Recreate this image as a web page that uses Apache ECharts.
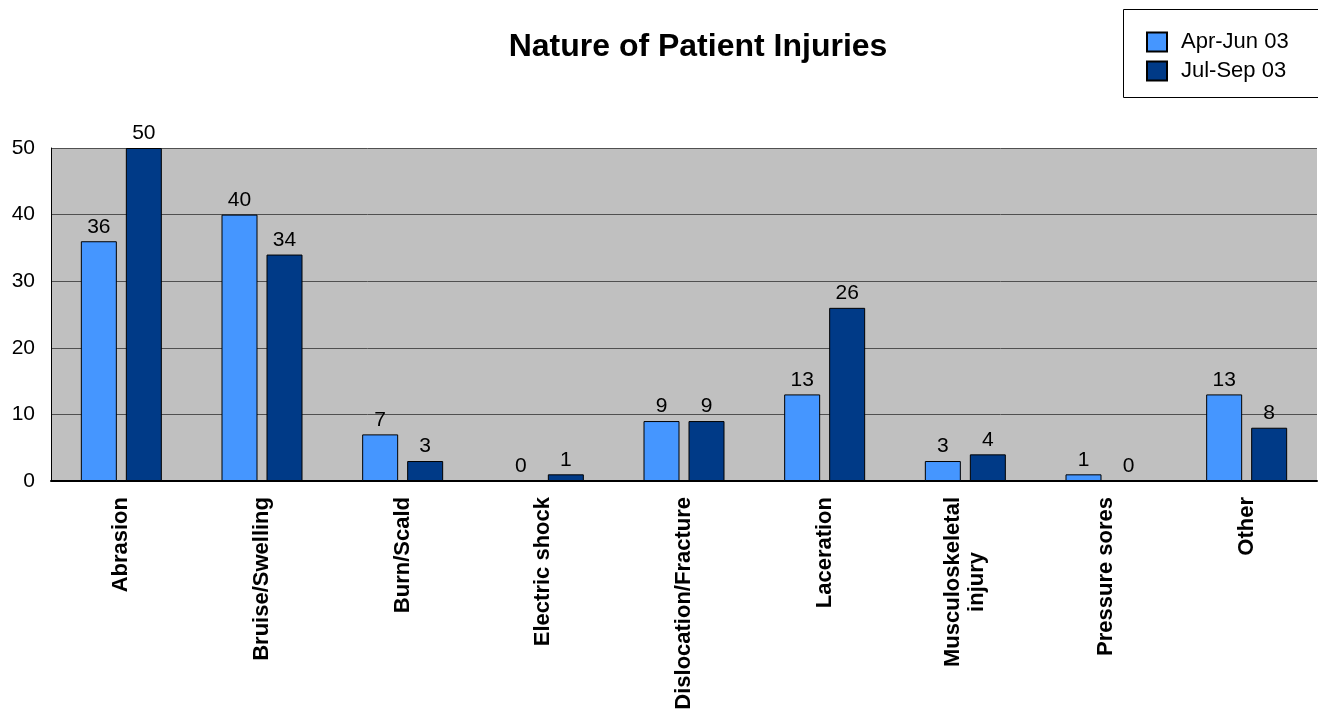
<!DOCTYPE html>
<html>
<head>
<meta charset="utf-8">
<title>Nature of Patient Injuries</title>
<script src="https://cdn.jsdelivr.net/npm/echarts@6/dist/echarts.min.js"></script>
<style>
    html, body { margin: 0; padding: 0; background: #fff; }
    #chart { width: 1318px; height: 709px; }
</style>
</head>
<body>
<div id="chart"></div>
<script>
    // categories and values
    var categories = ['Abrasion', 'Bruise/Swelling', 'Burn/Scald', 'Electric shock', 'Dislocation/Fracture',
        'Laceration', 'Musculoskeletal\ninjury', 'Pressure sores', 'Other'];
    var aprJun = [36, 40, 7, 0, 9, 13, 3, 1, 13];
    var julSep = [50, 34, 3, 1, 9, 26, 4, 0, 8];
    var seriesNames = ['Apr-Jun 03', 'Jul-Sep 03'];
    var yTicks = [0, 10, 20, 30, 40, 50];

    var font = 'Liberation Sans, Arial, sans-serif';

    var makeSeries = function(name, data, color) {
        // a zero bar has no outline in the original
        var list = [];
        for (var i = 0; i < data.length; i++) {
            if (data[i] === 0) {
                list.push({ value: 0, itemStyle: { borderWidth: 0 } });
            } else {
                list.push(data[i]);
            }
        }
        return {
            name: name,
            type: 'bar',
            data: list,
            barWidth: 36,
            barGap: '25%',
            itemStyle: {
                color: color,
                borderColor: '#000',
                borderWidth: 1
            },
            label: {
                show: true,
                position: 'top',
                distance: 4,
                color: '#000',
                fontFamily: font,
                fontSize: 21
            }
        };
    };

    var chartOption = {
        animation: false,
        title: {
            text: 'Nature of Patient Injuries',
            left: 693,
            textAlign: 'center',
            top: 26,
            textStyle: {
                fontFamily: font,
                fontWeight: 'bold',
                fontSize: 32,
                color: '#000'
            }
        },
        legend: {
            orient: 'vertical',
            left: 1146,
            top: 31,
            padding: 0,
            itemWidth: 20,
            itemHeight: 19,
            itemGap: 7,
            icon: 'rect',
            data: seriesNames,
            textStyle: {
                fontFamily: font,
                fontSize: 22,
                color: '#000',
                padding: [0, 0, 0, 9]
            }
        },
        graphic: [{
            type: 'rect',
            shape: { x: 1123.5, y: 9.5, width: 200, height: 88 },
            style: { fill: 'none', stroke: '#000', lineWidth: 1 },
            z: -1
        }],
        grid: {
            left: 51,
            right: 1,
            top: 148,
            bottom: 228,
            outerBoundsMode: 'none',
            show: true,
            backgroundColor: '#C0C0C0',
            borderWidth: 0
        },
        xAxis: {
            type: 'category',
            data: categories,
            axisTick: { show: false },
            axisLine: { lineStyle: { color: '#000', width: 2 } },
            axisLabel: {
                rotate: 90,
                margin: 16,
                interval: 0,
                color: '#000',
                fontFamily: font,
                fontSize: 22,
                fontWeight: 'bold',
                formatter: function(value) {
                    return value.split('\n').map(function(line) {
                        return '{c|' + line + '}';
                    }).join('\n');
                },
                rich: {
                    c: {
                        align: 'center',
                        fontFamily: font,
                        fontSize: 22,
                        fontWeight: 'bold',
                        color: '#000',
                        lineHeight: 24
                    }
                }
            }
        },
        yAxis: {
            type: 'value',
            min: yTicks[0],
            max: yTicks[yTicks.length - 1],
            interval: 10,
            axisLine: { show: true, lineStyle: { color: '#000', width: 1 } },
            axisTick: { show: false },
            axisLabel: {
                margin: 16,
                color: '#000',
                fontFamily: font,
                fontSize: 21
            },
            splitLine: { lineStyle: { color: '#505050', width: 1 } }
        },
        series: [
            makeSeries(seriesNames[0], aprJun, '#4596FF'),
            makeSeries(seriesNames[1], julSep, '#003A87')
        ]
    };

    var chartDom = document.getElementById('chart');
    var myChart = echarts.init(chartDom);
    myChart.setOption(chartOption, true);
</script>
</body>
</html>
